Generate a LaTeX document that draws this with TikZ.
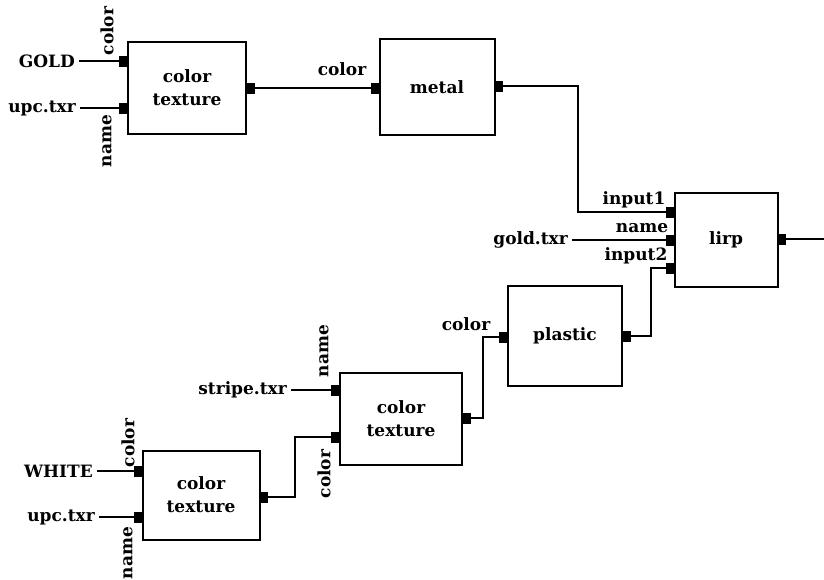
\documentclass[tikz,border=0pt]{standalone}
\usepackage{fontspec}
\setmainfont{DejaVu Serif}
\usetikzlibrary{positioning}

\begin{document}
\begin{tikzpicture}[
  x=1pt, y=-1pt,
  every node/.style={font=\fontsize{17}{23}\selectfont\bfseries},
  box/.style={draw, line width=2pt, minimum width=118pt, minimum height=92pt,
              align=center, inner sep=0pt},
  port/.style={fill=black, minimum width=9pt, minimum height=11pt, inner sep=0pt},
  wire/.style={line width=1.8pt},
  src/.style={inner sep=4pt, anchor=east},
  vlbl/.style={rotate=90, inner sep=0pt},
  hlbl/.style={inner sep=0pt}
]
  \useasboundingbox (0,0) rectangle (824,579);

  % shader boxes
  \node[box] (ctA) at (187,88) {color\\texture};
  \node[box, minimum width=115pt, minimum height=96pt] (metal) at (437,87) {metal};
  \node[box, minimum width=103pt, minimum height=94pt] (lirp) at (726,240) {lirp};
  \node[box, minimum width=114pt, minimum height=100pt] (plastic) at (565,336) {plastic};
  \node[box, minimum width=122pt] (ctB) at (401,419) {color\\texture};
  \node[box, minimum width=117pt, minimum height=89pt] (ctC) at (201,495) {color\\texture};

  % ports
  \node[port, anchor=east] (ctAcol) at (128,61) {};
  \node[port, anchor=east] (ctAnam) at (128,108) {};
  \node[port, anchor=west] (ctAout) at (246,88) {};
  \node[port, anchor=east] (metalin) at (380,88) {};
  \node[port, anchor=west] (metalout) at (494,86) {};
  \node[port, anchor=east] (lirpin1) at (675,212) {};
  \node[port, anchor=east] (lirpnam) at (675,240) {};
  \node[port, anchor=east] (lirpin2) at (675,268) {};
  \node[port, anchor=west] (lirpout) at (777,239) {};
  \node[port, anchor=east] (plasticin) at (508,337) {};
  \node[port, anchor=west] (plasticout) at (622,336) {};
  \node[port, anchor=east] (ctBnam) at (340,390) {};
  \node[port, anchor=east] (ctBcol) at (340,437) {};
  \node[port, anchor=west] (ctBout) at (462,418) {};
  \node[port, anchor=east] (ctCcol) at (143,471) {};
  \node[port, anchor=east] (ctCnam) at (143,517) {};
  \node[port, anchor=west] (ctCout) at (259,497) {};

  % inputs
  \node[src] (gold) at (79,61) {GOLD};
  \node[src] (upcA) at (80,108) {upc.txr};
  \node[src] (goldtxr) at (572,240) {gold.txr};
  \node[src] (stripe) at (291,390) {stripe.txr};
  \node[src] (white) at (97,471) {WHITE};
  \node[src] (upcC) at (99,517) {upc.txr};

  % parameter labels
  \node[vlbl] (lAcol) at (107,31) {color};
  \node[vlbl] (lAnam) at (107,141) {name};
  \node[hlbl] (lMcol) at (342,69) {color};
  \node[hlbl] (lLin1) at (634,200) {input1};
  \node[hlbl] (lLnam) at (642,228) {name};
  \node[hlbl] (lLin2) at (636,256) {input2};
  \node[hlbl] (lPcol) at (466,324) {color};
  \node[vlbl] (lBnam) at (324,351) {name};
  \node[vlbl] (lBcol) at (324,474) {color};
  \node[vlbl] (lCcol) at (128,443) {color};
  \node[vlbl] (lCnam) at (128,553) {name};

  % wires
  \coordinate (j1) at (578,212);
  \coordinate (j2) at (651,268);
  \coordinate (j3) at (483,337);
  \coordinate (j4) at (295,437);
  \coordinate (out) at (824,239);

  \draw[wire] (gold) -- (ctAcol);
  \draw[wire] (upcA) -- (ctAnam);
  \draw[wire] (goldtxr) -- (lirpnam);
  \draw[wire] (stripe) -- (ctBnam);
  \draw[wire] (white) -- (ctCcol);
  \draw[wire] (upcC) -- (ctCnam);
  \draw[wire] (ctAout) -- (metalin);
  \draw[wire] (metalout) -| (j1) -- (lirpin1);
  \draw[wire] (plasticout) -| (j2) -- (lirpin2);
  \draw[wire] (ctBout) -| (j3) -- (plasticin);
  \draw[wire] (ctCout) -| (j4) -- (ctBcol);
  \draw[wire] (lirpout) -- (out);
\end{tikzpicture}
\end{document}
